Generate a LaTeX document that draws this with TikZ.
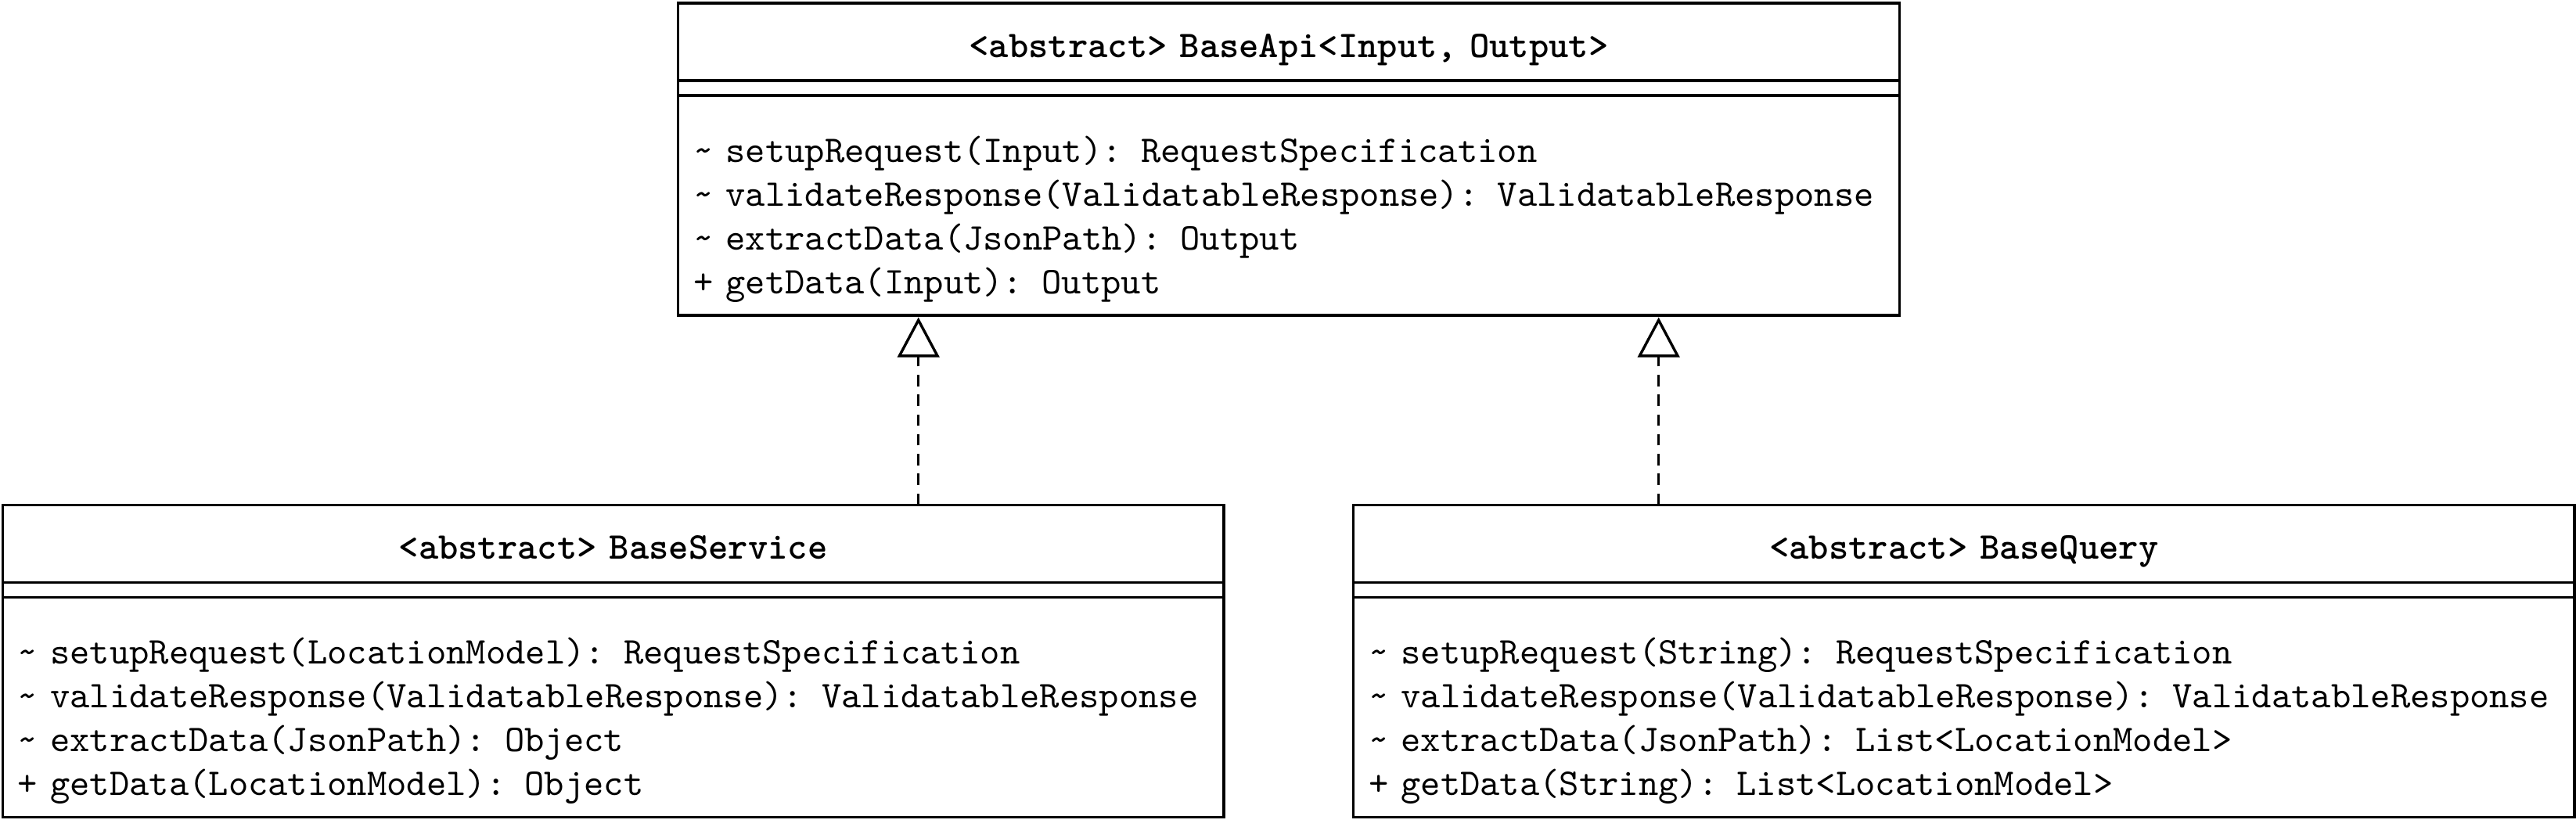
\documentclass[tikz,border=0pt]{standalone}
\usepackage{tikz}
\usetikzlibrary{arrows.meta,calc,positioning}
\newcommand{\Pk}{\textasciitilde}
\newcommand{\opsTop}{\rule{0pt}{17.6pt}}
\newcommand{\opsBot}{\rule[-5.7pt]{0pt}{5.7pt}}

\begin{document}
\begin{tikzpicture}[>=Stealth, x=1cm, y=1cm]

\tikzset{
  cname/.style={
    draw,
    line width=0.7pt,
    fill=white,
    align=center,
    anchor=north,
    inner xsep=4pt,
    inner ysep=0pt,
    outer sep=0pt,
    text width=313pt,
    text height=9.2pt,
    text depth=1pt,
    minimum height=20.4pt,
    font=\fontsize{9.92}{11.5}\selectfont\ttfamily\bfseries
  },
  cattr/.style={
    draw,
    line width=0.7pt,
    inner sep=0pt,
    outer sep=0pt,
    minimum width=321pt,
    minimum height=3.9pt
  },
  cops/.style={
    draw,
    line width=0.7pt,
    align=left,
    inner xsep=4pt,
    inner ysep=0pt,
    outer sep=0pt,
    text width=313pt,
    minimum height=57.8pt,
    font=\fontsize{9.92}{11.5}\selectfont\ttfamily
  },
  realize/.style={
    line width=0.7pt,
    dash pattern=on 3pt off 2.2pt,
    -{Triangle[open, length=10.5pt, width=11pt, line width=0.7pt]},
    shorten >=0.5pt
  }
}

\useasboundingbox (0,0) rectangle (23.8,-7.635);

% abstract base class on top
\node[cname] (api) at (11.907,-0.029) {<abstract> BaseApi<Input, Output>};
\node[cattr, below=0pt of api] (api-attr) {};
\node[cops, below=0pt of api-attr] (api-ops) {%
  \opsTop\Pk{} setupRequest(Input): RequestSpecification\\
  \Pk{} validateResponse(ValidatableResponse): ValidatableResponse\\
  \Pk{} extractData(JsonPath): Output\\
  + getData(Input): Output\opsBot};

% the two implementations
\node[cname] (svc) at (5.665,-4.665) {<abstract> BaseService};
\node[cattr, below=0pt of svc] (svc-attr) {};
\node[cops, below=0pt of svc-attr] (svc-ops) {%
  \opsTop\Pk{} setupRequest(LocationModel): RequestSpecification\\
  \Pk{} validateResponse(ValidatableResponse): ValidatableResponse\\
  \Pk{} extractData(JsonPath): Object\\
  + getData(LocationModel): Object\opsBot};

\node[cname] (qry) at (18.145,-4.665) {<abstract> BaseQuery};
\node[cattr, below=0pt of qry] (qry-attr) {};
\node[cops, below=0pt of qry-attr] (qry-ops) {%
  \opsTop\Pk{} setupRequest(String): RequestSpecification\\
  \Pk{} validateResponse(ValidatableResponse): ValidatableResponse\\
  \Pk{} extractData(JsonPath): List<LocationModel>\\
  + getData(String): List<LocationModel>\opsBot};

\coordinate (svc-up) at ($(svc.north west)!0.75!(svc.north east)$);
\coordinate (qry-up) at ($(qry.north west)!0.25!(qry.north east)$);

\draw[realize] (svc-up) -- (svc-up |- api-ops.south);
\draw[realize] (qry-up) -- (qry-up |- api-ops.south);

\end{tikzpicture}
\end{document}
